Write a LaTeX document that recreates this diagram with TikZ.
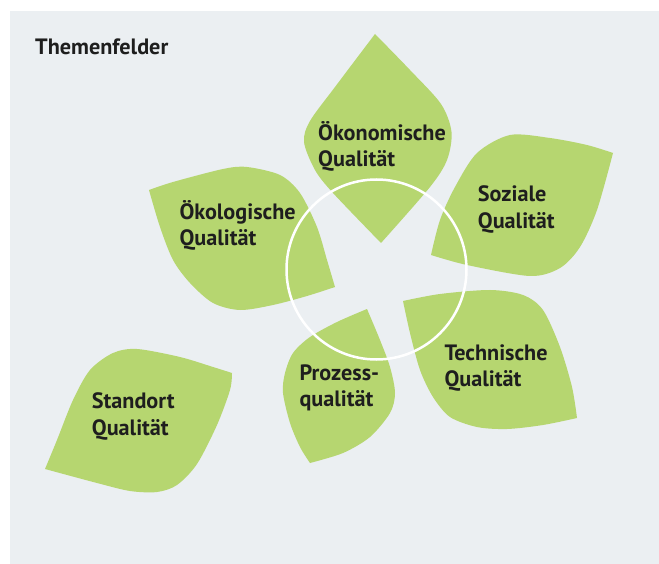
\documentclass[tikz,border=0pt]{standalone}
\usepackage{fontspec}
\setmainfont{PT Sans}
\definecolor{panelgray}{RGB}{235,239,242}
\definecolor{leafgreen}{RGB}{182,214,112}
\definecolor{textdark}{RGB}{30,30,30}
\begin{document}
\begin{tikzpicture}[x=1pt,y=-1pt,
  leaf/.style={fill=leafgreen},
  leaflabel/.style={font=\bfseries\fontsize{22.2}{26.5}\selectfont, text=textdark,
    align=left, anchor=base west, inner sep=0pt},
  ring/.style={circle, draw=white, line width=2.5pt, minimum size=180pt, inner sep=0pt}]
\useasboundingbox (0,0) rectangle (659,564);
\fill[panelgray] (10,11) rectangle (659,564);

% leaves: each side is a smooth curve between the two pointed tips
% Oekonomische Qualitaet
\fill[leaf] plot[smooth] coordinates {(375,34) (335,87) (310,121) (304,142) (315,170) (333,193) (381,243)}
  -- plot[smooth] coordinates {(381,243) (430,187) (447,160) (451.5,132) (441,104) (410,70) (375,34)} -- cycle;
% Soziale Qualitaet
\fill[leaf] plot[smooth] coordinates {(431,255) (440,220) (455,187) (477,153) (510,135) (550,138) (587,145) (613,153)}
  -- plot[smooth] coordinates {(613,153) (597,210) (580,247) (560,268) (530,276) (467,265) (431,255)} -- cycle;
% Oekologische Qualitaet
\fill[leaf] plot[smooth] coordinates {(149,190) (173,182) (223,169) (247,167) (280,175) (300,193) (317,227) (327,260) (335,287)}
  -- plot[smooth] coordinates {(335,287) (307,296) (273,305) (240,310) (213,303) (190,283) (173,260) (160,227) (149,190)} -- cycle;
% Prozessqualitaet
\fill[leaf] plot[smooth] coordinates {(367,309) (337,322) (310,337) (293,353) (285,373) (283,393) (290,423) (300,447) (310,463)}
  -- plot[smooth] coordinates {(310,463) (343,453) (370,437) (390,413) (395,393) (390,367) (380,340) (367,309)} -- cycle;
% Technische Qualitaet
\fill[leaf] plot[smooth] coordinates {(403,301) (440,294) (490,290) (523,295) (543,310) (560,347) (572,387) (577,418)}
  -- plot[smooth] coordinates {(577,418) (543,425) (507,429) (477,427) (450,417) (433,397) (420,370) (410,333) (403,301)} -- cycle;
% Standort Qualitaet
\fill[leaf] plot[smooth] coordinates {(45,469) (57,440) (73,400) (90,370) (113,353) (137,349) (180,357) (213,367) (232,373)}
  -- plot[smooth] coordinates {(232,373) (230,390) (217,425) (197,464) (177,485) (157,492) (130,491) (97,483) (45,469)} -- cycle;

% white ring in the middle
\node[ring] (ring) at (376.5,269.5) {};

% labels (base anchor sits on the baseline of the last line)
\node[leaflabel] (title) at (35,55) {Themenfelder};
\node[leaflabel] (oekonomisch) at (318,166.7) {Ökonomische\\Qualität};
\node[leaflabel] (sozial) at (477.7,228.3) {Soziale\\Qualität};
\node[leaflabel] (oekologisch) at (179.3,246) {Ökologische\\Qualität};
\node[leaflabel] (prozess) at (299.3,406.7) {Prozess-\\qualität};
\node[leaflabel] (technisch) at (444.3,386.7) {Technische\\Qualität};
\node[leaflabel] (standort) at (91.7,435) {Standort\\Qualität};
\end{tikzpicture}
\end{document}
